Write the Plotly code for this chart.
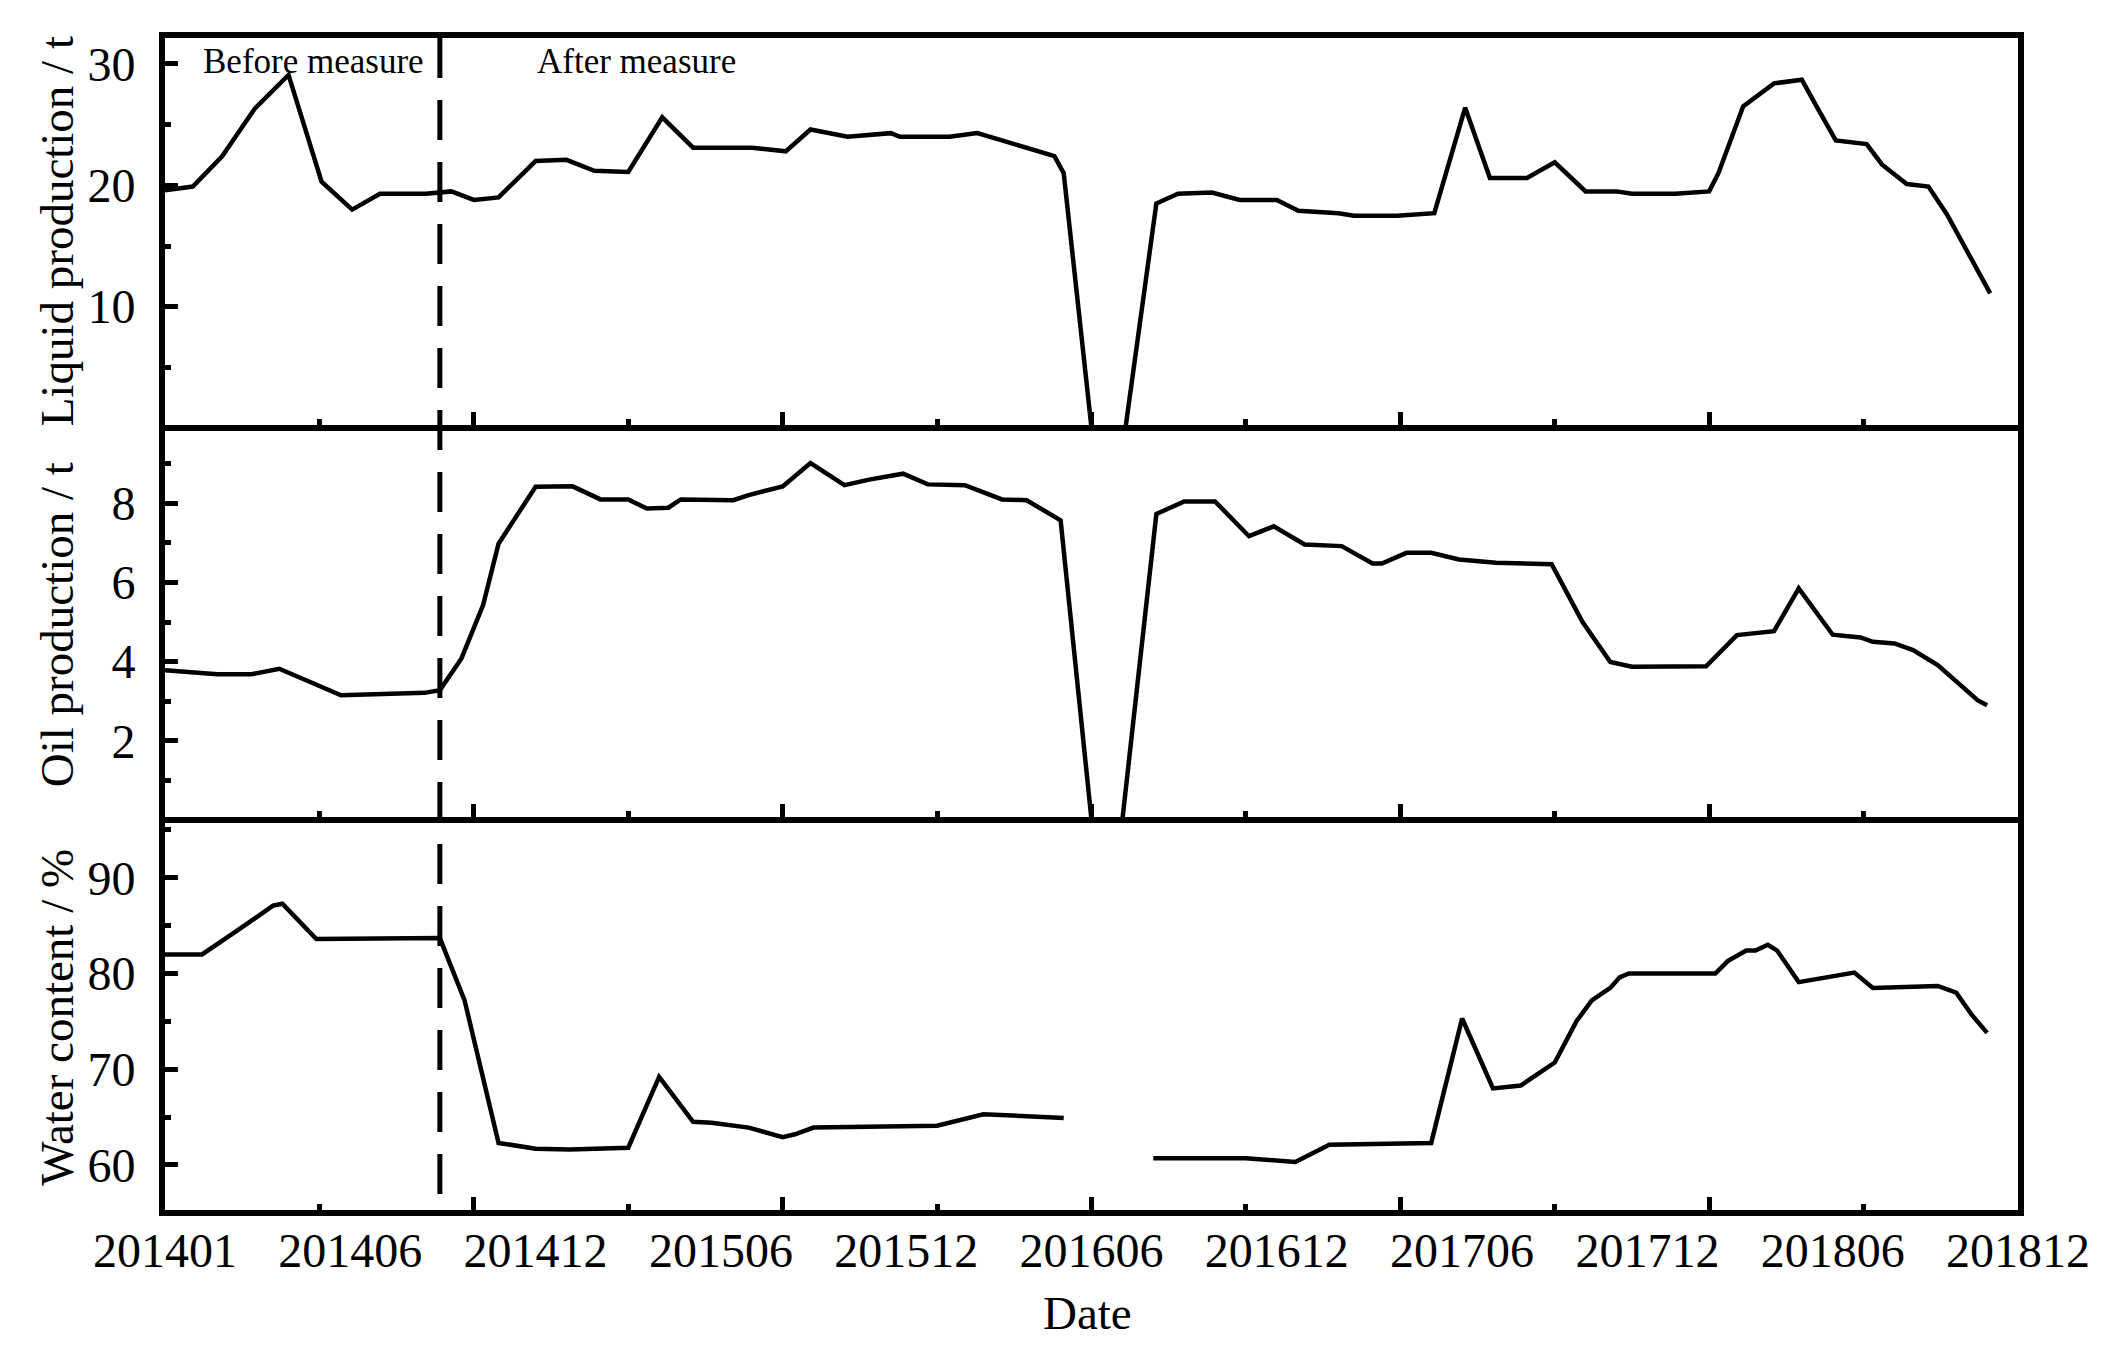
import plotly.graph_objects as go
from plotly.subplots import make_subplots

FONT = "Liberation Serif"

# ---- x tick labels (evenly spaced along the axis) ----
date_labels = ["201401", "201406", "201412", "201506", "201512", "201606",
               "201612", "201706", "201712", "201806", "201812"]
label_pos = [0, 6, 12, 18, 24, 30, 36, 42, 48, 54, 60]
x_major = [10, 20, 30, 40, 50]
x_minor = [5, 15, 25, 35, 45, 55]

# measure boundary
measure_x = 8.9

# ---- Liquid production (t) ----
liquid_x = [0, 0.9, 1.85, 2.9, 4.0, 5.07, 6.06, 6.96, 8.45, 9.27, 10.0, 10.8, 12.0, 13.0,
            13.9, 15.0, 16.1, 17.1, 19.0, 20.1, 20.9, 22.1, 23.5, 23.8, 25.4, 26.3, 27.1,
            28.8, 29.1, 30.0, 31.1, 32.1, 32.8, 33.9, 34.8, 36.0, 36.7, 38.0, 38.5, 39.9,
            41.1, 42.1, 42.9, 44.1, 45.0, 46.0, 47.0, 47.5, 48.9, 50.0, 50.3, 51.1, 52.1,
            53.0, 53.5, 54.1, 55.1, 55.6, 56.4, 57.1, 57.7, 59.1]
liquid_t = [19.6, 19.9, 22.4, 26.3, 29.1, 20.3, 18.0, 19.3, 19.3, 19.5, 18.8, 19.0, 22.0, 22.1,
            21.2, 21.1, 25.6, 23.1, 23.1, 22.8, 24.6, 24.0, 24.3, 24.0, 24.0, 24.3, 23.7,
            22.4, 21.0, 0, 0, 18.5, 19.3, 19.4, 18.8, 18.8, 17.9, 17.7, 17.5, 17.5,
            17.7, 26.4, 20.6, 20.6, 21.9, 19.5, 19.5, 19.3, 19.3, 19.5, 21.0, 26.5, 28.4,
            28.7, 26.4, 23.7, 23.4, 21.7, 20.1, 19.9, 17.6, 11.1]

# ---- Oil production (t) ----
oil_x = [0, 1.7, 2.8, 3.7, 5.7, 8.4, 8.9, 9.6, 10.3, 10.8, 12.0, 13.2, 14.1, 15.0, 15.6,
         16.3, 16.7, 18.4, 18.9, 20.0, 20.9, 22.0, 22.8, 23.9, 24.7, 25.9, 27.1, 27.9,
         29.0, 30.0, 31.0, 32.1, 33.0, 34.0, 35.1, 35.9, 36.9, 38.1, 39.1, 39.4, 40.2,
         41.0, 41.9, 43.1, 44.9, 45.9, 46.8, 47.5, 49.9, 50.9, 52.1, 52.9, 54.0, 54.9,
         55.3, 56.0, 56.6, 57.4, 58.7, 59.0]
oil_t = [3.78, 3.68, 3.68, 3.82, 3.15, 3.21, 3.28, 4.08, 5.43, 6.98, 8.42, 8.43, 8.10, 8.10,
         7.87, 7.89, 8.10, 8.08, 8.21, 8.43, 9.02, 8.46, 8.60, 8.75, 8.48, 8.46, 8.10, 8.08,
         7.57, 0, 0, 7.73, 8.05, 8.05, 7.17, 7.42, 6.96, 6.92, 6.48, 6.48, 6.75,
         6.75, 6.58, 6.50, 6.46, 5.0, 3.99, 3.87, 3.88, 4.67, 4.77, 5.85, 4.68, 4.61,
         4.50, 4.46, 4.29, 3.91, 3.02, 2.90]

# ---- Water content (%) ; None = no data ----
water_x = [0, 1.2, 2.3, 3.5, 3.8, 4.2, 4.9, 8.9, 9.7, 10.8, 12.0, 13.1, 15.0, 16.0, 17.1,
           17.7, 18.9, 20.0, 20.4, 21.0, 25.0, 26.5, 29.1, 30.5, 32.0, 35.0, 36.6, 37.7,
           41.0, 42.0, 43.0, 43.9, 45.0, 45.7, 46.2, 46.8, 47.1, 47.4, 50.2, 50.6, 51.2,
           51.5, 51.9, 52.2, 52.9, 54.7, 55.3, 57.4, 58.0, 58.5, 59.0]
water_pct = [82.0, 82.0, 84.4, 87.1, 87.3, 86.0, 83.6, 83.7, 77.2, 62.3, 61.7, 61.6, 61.8, 69.2, 64.5,
             64.4, 63.9, 62.9, 63.2, 63.9, 64.1, 65.3, 64.9, None, 60.7, 60.7, 60.3, 62.1,
             62.3, 75.3, 68.0, 68.3, 70.7, 75.0, 77.2, 78.5, 79.6, 80.0, 80.0, 81.3, 82.4,
             82.4, 83.0, 82.4, 79.1, 80.1, 78.5, 78.7, 78.0, 75.7, 73.8]

fig = make_subplots(rows=3, cols=1, shared_xaxes=True, vertical_spacing=0)

line_style = dict(color="black", width=4.5)
fig.add_trace(go.Scatter(x=liquid_x, y=liquid_t, mode="lines", line=line_style,
                         showlegend=False), row=1, col=1)
fig.add_trace(go.Scatter(x=oil_x, y=oil_t, mode="lines", line=line_style,
                         showlegend=False), row=2, col=1)
fig.add_trace(go.Scatter(x=water_x, y=water_pct, mode="lines", line=line_style,
                         connectgaps=False, showlegend=False), row=3, col=1)
# helper trace so the overlaid label axis is drawn
fig.add_trace(go.Scatter(x=[], y=[], mode="lines", xaxis="x4", yaxis="y3",
                         showlegend=False, hoverinfo="skip"))

LW = 6
XR = [0, 60]


def xcommon(mirror):
    return dict(range=XR, showline=True, linecolor="black", linewidth=LW, mirror=mirror,
                ticks="inside", tickmode="array", tickvals=x_major, ticklen=13, tickwidth=5,
                tickcolor="black",
                minor=dict(ticks="inside", tickmode="array", tickvals=x_minor, ticklen=6,
                           tickwidth=5, tickcolor="black"),
                showgrid=False, zeroline=False, showticklabels=False, automargin=False)


tickfont = dict(family=FONT, size=48, color="black")


def ycommon(rng, major, minor, dom):
    return dict(range=rng, domain=dom, showline=True, linecolor="black", linewidth=LW,
                mirror=True, ticks="inside", tickmode="array", tickvals=major, ticklen=13,
                tickwidth=5, tickcolor="black",
                minor=dict(ticks="inside", tickmode="array", tickvals=minor, ticklen=6,
                           tickwidth=5, tickcolor="black"),
                showgrid=False, zeroline=False, tickfont=tickfont, ticklabelstandoff=14,
                automargin=False)


# the page body adds an 8px offset, so the figure is 16px smaller than the window
fig.update_layout(
    width=2096, height=1340,
    margin=dict(l=157, r=86, t=30, b=138),
    paper_bgcolor="white", plot_bgcolor="white",
    showlegend=False,
    xaxis=xcommon(True), xaxis2=xcommon(False), xaxis3=xcommon(False),
    xaxis4=dict(overlaying="x3", anchor="y3", side="bottom", range=XR,
                tickmode="array", tickvals=label_pos, ticktext=date_labels, ticks="",
                showline=False, showgrid=False, zeroline=False, tickfont=tickfont,
                ticklabelstandoff=8, automargin=False),
    yaxis=ycommon([0.25, 32.14], [10, 20, 30], [5, 15, 25], [0.6698, 1.0]),
    yaxis2=ycommon([0.06, 9.83], [2, 4, 6, 8], [1, 3, 5, 7, 9], [0.3349, 0.6647]),
    yaxis3=ycommon([55.29, 95.68], [60, 70, 80, 90], [65, 75, 85, 95], [0.0, 0.3298]),
)

# dashed measure line across all panels
fig.add_shape(type="line", xref="x3", yref="paper", x0=measure_x, x1=measure_x,
              y0=1.0, y1=0.0, line=dict(color="black", width=5, dash="40px,22px"))

ann_font = dict(family=FONT, size=35, color="black")
title_font = dict(family=FONT, size=47, color="black")
annotations = [
    dict(text="Before measure", x=0.0799, y=0.980, xref="paper", yref="paper",
         xanchor="center", yanchor="middle", showarrow=False, font=ann_font),
    dict(text="After measure", x=0.2547, y=0.980, xref="paper", yref="paper",
         xanchor="center", yanchor="middle", showarrow=False, font=ann_font),
    dict(text="Liquid production / t", x=-0.0583, y=0.835, xref="paper", yref="paper",
         textangle=-90, xanchor="center", yanchor="middle", showarrow=False, font=title_font),
    dict(text="Oil production / t", x=-0.0583, y=0.4998, xref="paper", yref="paper",
         textangle=-90, xanchor="center", yanchor="middle", showarrow=False, font=title_font),
    dict(text="Water content / %", x=-0.0583, y=0.1649, xref="paper", yref="paper",
         textangle=-90, xanchor="center", yanchor="middle", showarrow=False, font=title_font),
    dict(text="Date", x=0.498, y=-0.088, xref="paper", yref="paper",
         xanchor="center", yanchor="middle", showarrow=False, font=title_font),
]
fig.update_layout(annotations=annotations)

fig.write_html("out.html")
